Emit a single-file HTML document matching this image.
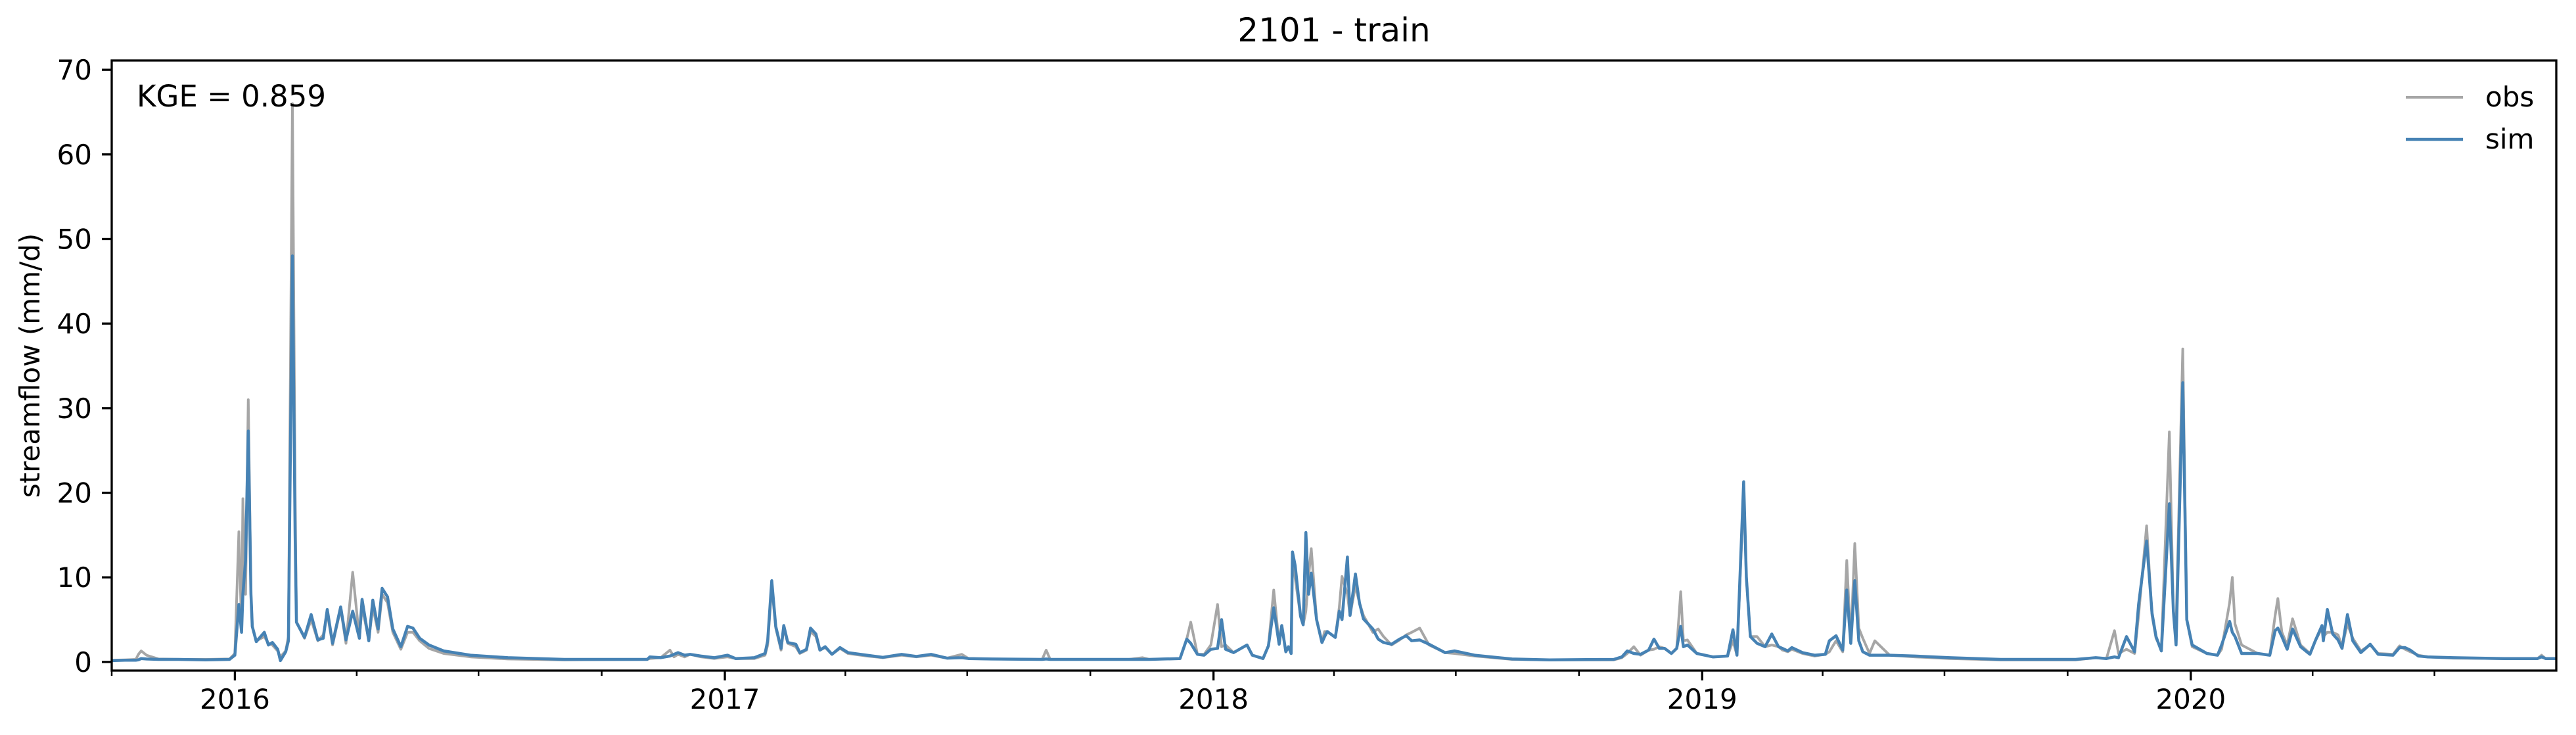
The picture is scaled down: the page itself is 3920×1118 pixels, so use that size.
<!DOCTYPE html>
<html><head><meta charset="utf-8"><style>
html,body{margin:0;padding:0;background:#fff;}
svg{display:block;font-family:"DejaVu Sans","Liberation Sans",sans-serif;}
</style></head><body>
<svg id="chart" width="3920" height="1118" viewBox="0 0 3920 1118" xmlns="http://www.w3.org/2000/svg">
<defs><clipPath id="pc"><rect x="170" y="92" width="3720" height="928"/></clipPath></defs>
<rect width="3920" height="1118" fill="#fff"/>
<text x="2030" y="63" font-size="50" text-anchor="middle">2101 - train</text>
<text transform="translate(60,556) rotate(-90)" font-size="42" text-anchor="middle">streamflow (mm/d)</text>
<g id="ticks"></g>
<g clip-path="url(#pc)">
<path id="obs-line" fill="none" stroke="#a6a6a6" stroke-width="4" stroke-linejoin="round"/>
<path id="sim-line" fill="none" stroke="#4682b4" stroke-width="4.5" stroke-linejoin="round"/>
</g>
<rect x="170" y="92" width="3720" height="928" fill="none" stroke="#000" stroke-width="3.3"/>
<text x="208" y="162" font-size="45">KGE = 0.859</text>
<g>
<line x1="3661" y1="148" x2="3748" y2="148" stroke="#a6a6a6" stroke-width="4"/>
<text x="3782" y="162" font-size="42">obs</text>
<line x1="3661" y1="212" x2="3748" y2="212" stroke="#4682b4" stroke-width="4.5"/>
<text x="3782" y="226" font-size="42">sim</text>
</g>
</svg>
<script>
const days=[0,10,18,20,22,26,35,50,70,88,92,95,97,98,100,102,104,105,108,114,117,120,124,126,130,132,135,137,138,144,149,154,158,161,165,171,175,180,185,187,192,195,199,202,206,210,216,221,225,230,237,248,268,296,338,400,402,410,417,420,423,428,432,440,450,460,466,480,488,490,493,496,500,502,505,511,514,519,522,526,529,533,538,544,550,564,576,590,601,612,624,635,640,657,695,698,701,760,770,775,798,803,806,811,816,821,826,829,832,838,848,852,860,864,868,872,874,877,879,881,882,884,888,890,892,894,896,900,904,906,908,914,917,919,923,925,929,932,935,942,946,950,956,962,967,971,977,984,996,1003,1018,1046,1074,1122,1128,1132,1137,1142,1148,1152,1156,1160,1165,1169,1172,1174,1177,1184,1196,1207,1211,1214,1219,1221,1224,1229,1235,1240,1245,1248,1252,1255,1263,1272,1280,1283,1288,1293,1296,1299,1302,1305,1308,1313,1317,1328,1347,1373,1411,1467,1482,1490,1496,1499,1505,1511,1514,1520,1524,1527,1531,1537,1540,1542,1547,1550,1554,1565,1573,1576,1582,1584,1586,1591,1603,1612,1616,1618,1621,1625,1629,1635,1642,1646,1651,1652,1655,1659,1663,1666,1670,1674,1680,1687,1693,1704,1709,1713,1717,1723,1730,1749,1787,1812,1815,1818,1826];
const obsValues=[0.2,0.25,0.3,0.9,1.3,0.8,0.35,0.3,0.3,0.35,1.0,15.4,4,19.3,8,31,8,4.2,2.5,3.0,2.2,2.0,1.3,0.6,1.3,3,66,20,4.7,2.8,5.0,2.5,3.2,5.8,2.0,6.3,2.2,10.6,2.8,6.5,2.6,6.5,3.5,8.0,7.0,3.5,1.5,3.5,3.5,2.5,1.6,1.0,0.6,0.35,0.25,0.3,0.4,0.5,1.4,0.6,0.9,0.6,0.9,0.6,0.4,0.6,0.4,0.4,0.8,2.0,9.0,4.0,1.4,4.0,2.2,1.8,1.0,1.4,3.6,3.0,1.4,1.7,0.9,1.6,1.0,0.7,0.5,0.8,0.6,0.8,0.45,0.9,0.4,0.35,0.3,1.4,0.3,0.3,0.5,0.3,0.4,2.7,4.7,0.9,0.9,2.0,6.8,1.8,2.0,1.1,2.0,0.8,0.4,1.9,8.5,2.1,4.3,1.2,1.8,1.0,13.0,9.9,5.4,4.4,6,10,13.4,5.0,2.3,3.6,3.6,2.9,6.5,10.1,8,5.5,9,7.0,5.5,3.5,3.9,3.0,2.0,2.6,3.2,3.5,4.0,2.0,1.1,1.0,0.7,0.3,0.25,0.25,0.5,1.0,1.8,0.8,1.4,1.5,1.8,1.6,1.0,1.6,8.3,2.5,2.6,1.0,0.6,0.7,2.5,0.8,20,10,3.0,3.0,1.8,2.0,1.8,1.4,1.2,1.5,1.0,0.7,0.9,1.2,2.5,1.2,12,2.2,14,4,2.8,1.0,2.5,0.8,0.6,0.4,0.25,0.25,0.5,0.4,3.7,1.0,1.5,1.0,5.5,16.1,5.5,2.8,1.5,27.2,6,4,37,5,1.8,1.0,0.8,1.5,7,10,4.5,2.0,1.0,0.8,5.5,7.5,3.5,2.0,5.1,2.0,1.0,2.5,4.0,3.0,3.5,3.5,3.2,1.8,4.5,2.8,1.3,2.0,1.0,0.9,1.9,1.5,1.2,0.8,0.6,0.45,0.4,0.4,0.8,0.4,0.4];
const simValues=[0.15,0.2,0.2,0.25,0.4,0.35,0.3,0.3,0.25,0.3,0.8,6.8,3.5,8,12,27.3,8,4.2,2.4,3.5,2.0,2.3,1.5,0.15,1.2,2.5,48,15,4.7,2.9,5.6,2.6,2.8,6.2,2.2,6.5,2.6,6.0,2.8,7.4,2.5,7.3,3.9,8.7,7.7,3.9,1.8,4.2,4.0,2.8,2.0,1.3,0.8,0.5,0.3,0.3,0.6,0.5,0.7,0.9,1.1,0.8,0.9,0.7,0.5,0.8,0.4,0.5,1.0,2.5,9.6,4.2,1.6,4.3,2.3,2.1,1.1,1.5,4.0,3.3,1.4,1.8,0.9,1.7,1.1,0.8,0.55,0.9,0.65,0.9,0.45,0.5,0.4,0.35,0.3,0.35,0.3,0.3,0.3,0.3,0.4,2.7,2.2,0.9,0.8,1.5,1.6,5.0,1.5,1.1,2.0,0.8,0.4,1.9,6.4,2.1,4.3,1.2,1.8,1.0,13.0,11.4,5.4,4.4,15.3,8,10.5,5.0,2.3,3.0,3.6,2.9,6.0,5.0,12.4,5.5,10.4,7.0,5.1,3.9,2.7,2.3,2.1,2.7,3.1,2.5,2.6,2.1,1.1,1.3,0.8,0.35,0.25,0.3,0.6,1.3,1.0,0.9,1.4,2.7,1.6,1.6,1.0,1.6,4.2,1.8,2.0,1.0,0.6,0.7,3.8,0.8,21.3,10,3.0,2.2,1.8,3.3,1.8,1.6,1.3,1.7,1.1,0.8,0.9,2.5,3.1,1.4,8.5,2.2,9.6,2.5,1.2,0.8,0.8,0.8,0.7,0.5,0.3,0.3,0.5,0.4,0.6,0.5,3.0,1.2,6.8,14.3,5.8,3.0,1.3,18.7,6,2,33,5,2.0,1.0,0.8,2.0,4.8,3.5,3.0,1.0,1.0,0.8,3.7,4,3.0,1.5,3.9,1.8,0.9,2.5,4.3,2.5,6.2,3.3,2.6,1.6,5.6,2.5,1.1,2.1,0.9,0.8,1.7,1.7,1.4,0.7,0.6,0.5,0.4,0.4,0.6,0.4,0.4];
const yTickValues=[0,10,20,30,40,50,60,70];
const yearLabels=["2016","2017","2018","2019","2020"];

const X0=170,X1=3890,Y0=92,Y1=1020,DMAX=1826,YMIN=-1.02,YMAX=71.1;
function xs(d){return X0+d*(X1-X0)/DMAX;}
function ys(v){return Y1-(v-YMIN)*(Y1-Y0)/(YMAX-YMIN);}
const start=Date.UTC(2015,9,1);
function dayOf(y,m){return Math.round((Date.UTC(y,m,1)-start)/86400000);}
const NS="http://www.w3.org/2000/svg";
function path(vals){return vals.map((v,i)=>(i?"L":"M")+xs(days[i]).toFixed(1)+","+ys(v).toFixed(1)).join("");}
document.getElementById("obs-line").setAttribute("d",path(obsValues));
document.getElementById("sim-line").setAttribute("d",path(simValues));
const g=document.getElementById("ticks");
function mk(tag,attrs){const e=document.createElementNS(NS,tag);for(const k in attrs)e.setAttribute(k,attrs[k]);g.appendChild(e);return e;}
yTickValues.forEach(v=>{
  const y=ys(v);
  const t=mk("line",{x1:155,x2:170,y1:y,y2:y,stroke:"#000","stroke-width":3.3});
  
  
  const l=mk("text",{x:140,y:y+15,"font-size":42,"text-anchor":"end"});
  l.textContent=String(v);
  
  
});
for(let y=2015;y<=2020;y++){for(const m of [0,3,6,9]){
  const d=dayOf(y,m); if(d<0||d>DMAX)continue;
  const x=xs(d);
  const major=(m===0);
  const t=mk("line",{x1:x,x2:x,y1:1020,y2:major?1035:1028,stroke:"#000","stroke-width":major?3.3:2.5});
  
  
}}
yearLabels.forEach(lbl=>{
  const x=xs(dayOf(+lbl,0));
  const l=mk("text",{x:x,y:1078,"font-size":42,"text-anchor":"middle"});
  l.textContent=lbl;
  
  
});
</script>
</body></html>
